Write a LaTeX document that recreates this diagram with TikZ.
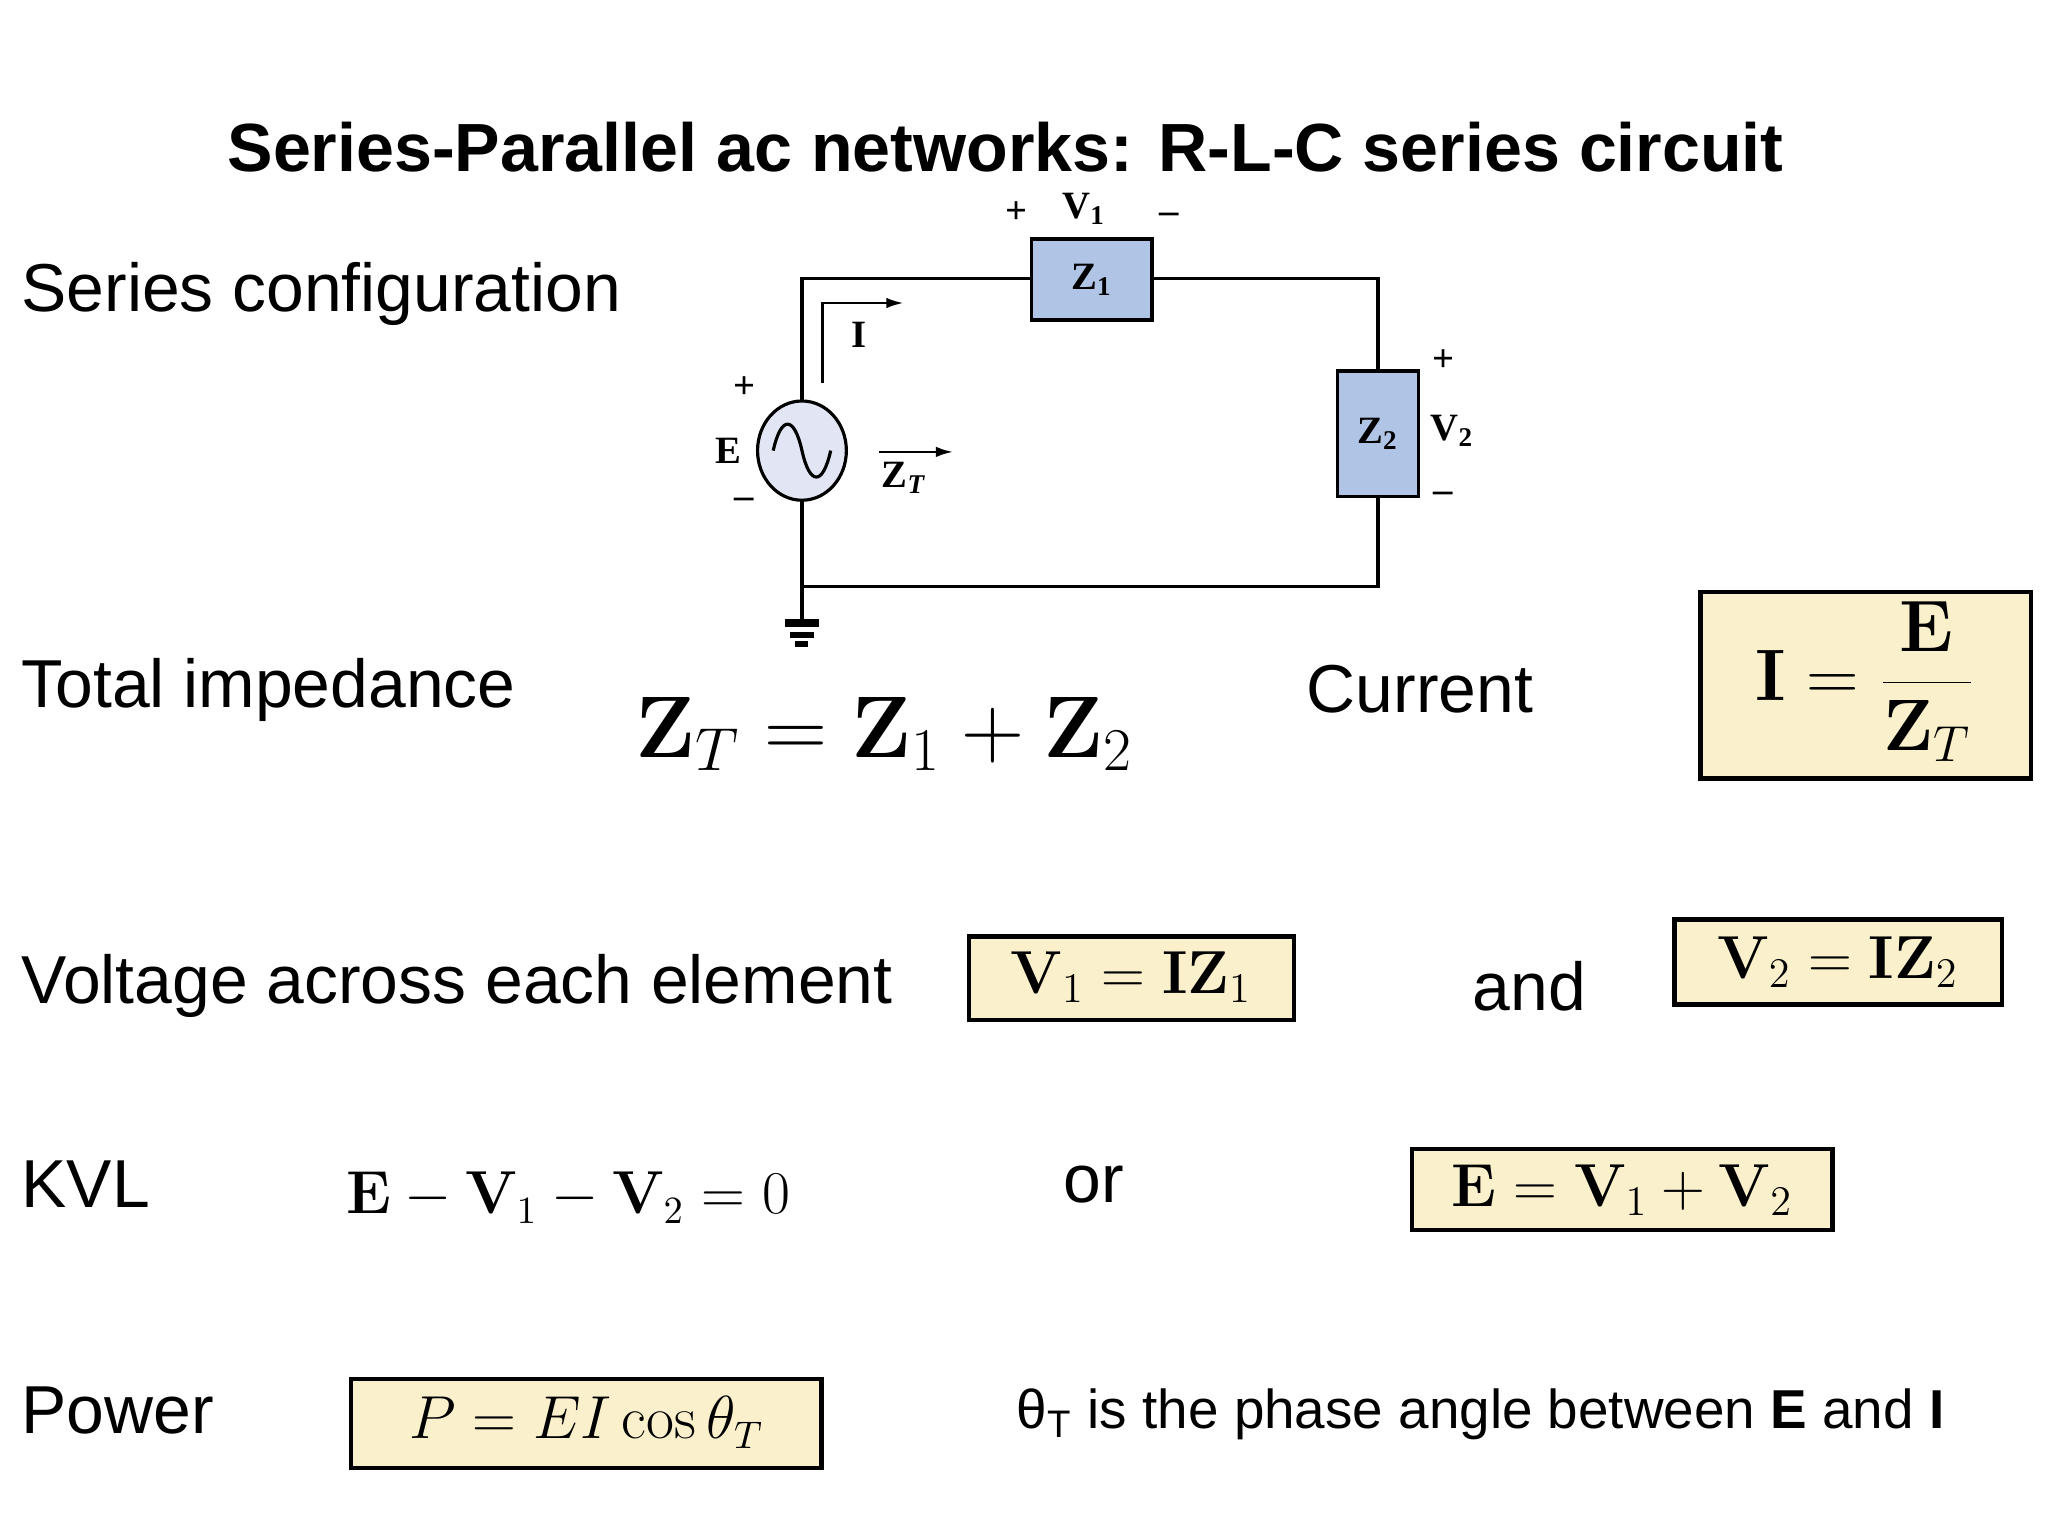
\documentclass[tikz,border=0pt]{standalone}
\usepackage[no-math]{fontspec}
\setmainfont{Liberation Sans}
\newfontfamily\tm{Liberation Serif}
\usetikzlibrary{arrows.meta}
\definecolor{boxfill}{RGB}{250,241,204}
\definecolor{zfill}{RGB}{176,196,230}
\definecolor{srcfill}{RGB}{226,230,244}
\begin{document}
\begin{tikzpicture}[x=0.013061cm,y=-0.013061cm,
  txt/.style={font=\fontsize{19.3}{22}\selectfont,anchor=west,inner sep=0pt},
  lbl/.style={font=\tm\bfseries\fontsize{11}{13}\selectfont,inner sep=0pt},
  eqbox/.style={draw,line width=1.2pt,fill=boxfill,inner sep=0pt},
  imp/.style={draw,line width=0.9pt,fill=zfill,inner sep=0pt},
  wire/.style={line width=0.9pt},
  arr/.style={line width=0.8pt,-{Latex[length=5pt,width=3pt]}}]
\useasboundingbox (0,0) rectangle (1568,1176);
% title
\node[font=\bfseries\fontsize{19.4}{22}\selectfont] (title) at (770,113) {Series-Parallel ac networks: R-L-C series circuit};
% row labels
\node[txt] (cfg) at (16,225) {Series configuration};
\node[txt] (tot) at (16,528) {Total impedance};
\node[txt] (cur) at (1000,528) {Current};
\node[txt] (vol) at (16,755) {Voltage across each element};
\node[txt] (and) at (1127,755) {and};
\node[txt] (kvl) at (16,907) {KVL};
\node[txt] (or) at (814,907) {or};
\node[txt] (pow) at (16,1080) {Power};
% circuit
\draw[imp] (790,183) rectangle (882,245);
\node[lbl] (z1) at (836,214) {Z\textsubscript{1}};
\draw[imp] (1024,284) rectangle (1086,380);
\node[lbl] (z2) at (1055,332) {Z\textsubscript{2}};
\draw[wire,fill=srcfill] (614,345) ellipse (34 and 38);
\draw[wire] (592,345) .. controls (598,318) and (608,318) .. (614,345) .. controls (620,372) and (630,372) .. (636,345);
\draw[wire] (614,307) -- (614,213) -- (790,213);
\draw[wire] (882,213) -- (1055,213) -- (1055,284);
\draw[wire] (1055,380) -- (1055,449) -- (614,449);
\draw[wire] (614,383) -- (614,477);
\draw[line width=2.5pt] (601,477) -- (627,477);
\draw[line width=1.8pt] (605,486) -- (623,486);
\draw[line width=1.5pt] (609,493) -- (619,493);
\draw[arr] (630,293) -- (630,232) -- (692,232);
\node[lbl] (i) at (658,256) {I};
\draw[arr] (673,346) -- (730,346);
\node[lbl] (zt0) at (692,366) {Z\textsubscript{\itshape T}};
\node[lbl] (E) at (558,345) {E};
\node[lbl] at (570,297) {+};
\node[lbl] at (570,385) {–};
\node[lbl] (V1) at (830,160) {V\textsubscript{1}};
\node[lbl] at (778,163) {+};
\node[lbl] at (895,167) {–};
\node[lbl] at (1105,276) {+};
\node[lbl] (V2) at (1112,330) {V\textsubscript{2}};
\node[lbl] at (1105,381) {–};
% equations
\node[font=\fontsize{24}{28}\selectfont] (zt) at (677,562) {$\mathbf{Z}_T=\mathbf{Z}_1+\mathbf{Z}_2$};
\draw[eqbox] (1302,453) rectangle (1555,596);
\node[font=\fontsize{20}{24}\selectfont] (ieq) at (1428,522) {$\displaystyle\mathbf{I}=\frac{\mathbf{E}}{\mathbf{Z}_T}$};
\draw[eqbox] (742,717) rectangle (991,781);
\node[font=\fontsize{18}{20}\selectfont] (v1) at (866,748) {$\mathbf{V}_1=\mathbf{IZ}_1$};
\draw[eqbox] (1282,704) rectangle (1533,769);
\node[font=\fontsize{18}{20}\selectfont] (v2) at (1407,737) {$\mathbf{V}_2=\mathbf{IZ}_2$};
\node[font=\fontsize{16}{20}\selectfont] (kvleq) at (435,917) {$\mathbf{E}-\mathbf{V}_1-\mathbf{V}_2=0$};
\draw[eqbox] (1081,880) rectangle (1403,942);
\node[font=\fontsize{17}{20}\selectfont] (e) at (1242,911) {$\mathbf{E}=\mathbf{V}_1+\mathbf{V}_2$};
\draw[eqbox] (269,1056) rectangle (629,1124);
\node[font=\fontsize{16}{20}\selectfont] (p) at (449,1089) {$P=EI\cos\theta_T$};
\node[txt,font=\fontsize{15.6}{18}\selectfont] (theta) at (778,1083) {θ\textsubscript{T} is the phase angle between \textbf{E} and \textbf{I}};
\end{tikzpicture}
\end{document}
